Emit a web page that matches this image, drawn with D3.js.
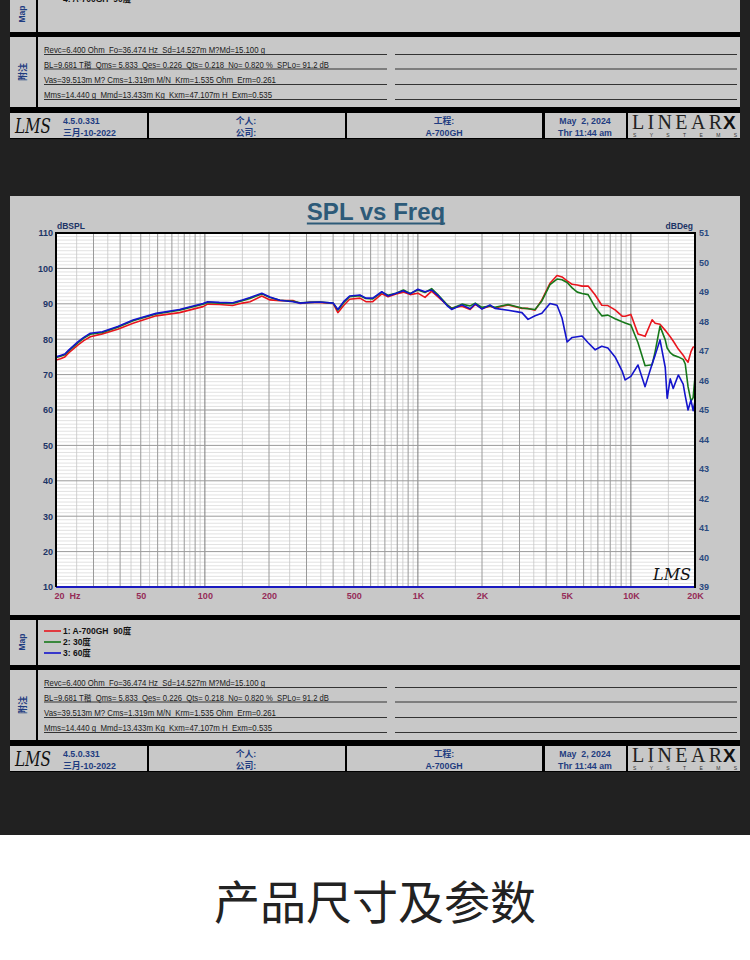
<!DOCTYPE html>
<html><head><meta charset="utf-8">
<script src="https://cdn.jsdelivr.net/npm/d3@7"></script>
<style>body{margin:0;background:#fff}svg{display:block}text{white-space:pre}</style>
</head><body>
<svg id="c" width="750" height="960"></svg>
<script>
// ---------------- DATA ----------------
const freqs = [20,21,22,23,25.4,27,29,33,39,46,59,76,98,103,117,135,150,163,185,202,225,259,280,311,346,400,421,448,478,535,570,614,677,724,791,855,920,1000,1080,1160,1240,1370,1440,1610,1760,1860,2000,2180,2300,2650,3080,3290,3550,3820,4170,4500,4750,5020,5300,5600,5900,6300,6800,7300,7800,8430,9100,9400,10000,10800,11660,12580,13000,13700,14500,14800,15300,15800,16700,17600,18000,18550,19150,19600,20000];
const red90 = [74.1,74.5,75.0,76.2,78.4, 79.6,80.7,81.5,82.8,84.5, 86.6,87.5,89.2,89.9,89.8, 89.5,90.2,90.6,92.2,91.1, 90.9,90.9,90.1,90.4,90.4, 90.1,87.5,89.5,91.3,91.6, 90.6,90.6,92.8,92.0,92.8, 93.3,92.6,93.0,91.8,93.6, 92.0,89.7,88.8,89.3,88.4, 89.8,88.7,89.3,88.8,89.7, 88.7,88.7,88.2,91.1,95.8, 98.0,97.6,96.5,95.5,95.3, 95.0,95.0,92.5,89.6,89.5, 88.3,86.5,86.5,87.0,81.5, 80.8,85.5,84.5,84.2,82.5, 81.8,80.7,79.5,77.2,75.5, 74.5,73.5,76.5,77.8,77.8];
const green30 = [74.8,75.2,75.6,76.8,79.0, 80.3,81.4,81.9,83.4,85.2, 87.1,88.2,89.9,90.4,90.2, 90.1,90.9,91.5,92.8,91.8, 91.0,90.7,90.3,90.4,90.5, 90.2,88.2,90.3,92.0,92.3, 91.5,91.4,93.3,92.4,93.0, 93.9,92.9,93.9,93.2,94.3, 92.6,89.8,88.7,89.9,89.4, 90.2,89.0,89.4,89.0,89.8, 88.8,88.6,88.4,90.8,95.4, 97.0,96.8,96.0,94.5,93.3, 92.9,92.6,89.0,86.6,86.8, 85.8,84.9,84.6,84.0,79.0, 72.5,72.8,76.5,83.7,79.8, 77.5,76.2,75.5,75.0,74.3, 73.0,66.6,62.5,63.5,69.4];
const blue60 = [75.0,75.4,75.8,77.0,79.3, 80.5,81.7,82.1,83.6,85.4, 87.3,88.4,90.1,90.6,90.4, 90.3,91.1,91.8,93.0,91.9, 91.0,90.6,90.2,90.4,90.5, 90.2,88.4,90.6,92.2,92.5, 91.6,91.6,93.4,92.2,93.0, 93.7,92.8,94.1,93.4,93.9, 92.4,89.5,88.4,89.7,88.6, 90.0,88.5,89.7,88.7,88.2, 87.5,85.6,86.6,87.3,90.1, 89.6,86.0,79.2,80.5,80.7, 80.9,79.0,77.0,78.0,77.5, 75.0,71.0,68.5,69.5,72.7, 66.6,73.0,75.5,79.8,72.0, 63.3,68.8,66.1,69.9,67.3, 64.0,60.0,62.8,59.8,62.5];
const seriesNames = ["1: A-700GH  90度","2: 30度","3: 60度"];
const seriesColors = ["#e8161e","#16781a","#1414cc"];
const yLeftTicks = [110,100,90,80,70,60,50,40,30,20,10];
const yRightTicks = [51,50,49,48,47,46,45,44,43,42,41,40,39];
const xTickValues = [20,50,100,200,500,1000,2000,5000,10000,20000];
const xTickText = ["20  Hz","50","100","200","500","1K","2K","5K","10K","20K"];
const paramLines = [
  "Revc=6.400 Ohm  Fo=36.474 Hz  Sd=14.527m M?Md=15.100 g",
  "BL=9.681 T稭  Qms= 5.833  Qes= 0.226  Qts= 0.218  No= 0.820 %  SPLo= 91.2 dB",
  "Vas=39.513m M? Cms=1.319m M/N  Krm=1.535 Ohm  Erm=0.261",
  "Mms=14.440 g  Mmd=13.433m Kg  Kxm=47.107m H  Exm=0.535"
];
const paramWidths = [221,285,232,228];

// ---------------- DRAW ----------------
const FONT = "'Liberation Sans', Arial, 'Noto Sans CJK SC', sans-serif";
const GRAY = "#c8c8c8";
const BLUE_TXT = "#1f3c80";
const svg = d3.select("#c");

svg.append("rect").attr("width",750).attr("height",835).attr("fill","#212121");
svg.append("rect").attr("y",835).attr("width",750).attr("height",125).attr("fill","#ffffff");

// chart panel
svg.append("rect").attr("x",10).attr("y",196).attr("width",730).attr("height",419).attr("fill",GRAY);
svg.append("rect").attr("x",10).attr("y",615).attr("width",730).attr("height",5).attr("fill","#000");

const title = svg.append("text").attr("x",376).attr("y",220).attr("text-anchor","middle")
  .attr("font-family",FONT).attr("font-weight","bold").attr("font-size",24).attr("fill","#2d5a78").text("SPL vs Freq");
const tw = title.node().getComputedTextLength();
svg.append("rect").attr("x",376-tw/2).attr("y",222.5).attr("width",tw).attr("height",2).attr("fill","#2d5a78");

const L=56,R=695,T=233,B=587;
const x = d3.scaleLog().domain([20,20000]).range([L,R]);
const y = d3.scaleLinear().domain([10,110]).range([B,T]);
const yR = d3.scaleLinear().domain([39,51]).range([B,T]);

svg.append("rect").attr("x",L).attr("y",T).attr("width",R-L).attr("height",B-T).attr("fill","#fff");

const grid = svg.append("g");
// horizontal minor
d3.range(11,110).filter(v=>v%10!==0).forEach(v=>{
  grid.append("line").attr("x1",L).attr("x2",R).attr("y1",y(v)).attr("y2",y(v)).attr("stroke","#d6d6d6").attr("stroke-width",0.7);
});
// vertical lines
[10,100,1000,10000].forEach(dec=>{
  for(let m=1;m<10;m++){
    const fh=(m+0.5)*dec;
    if(fh>20 && fh<20000) grid.append("line").attr("x1",x(fh)).attr("x2",x(fh)).attr("y1",T).attr("y2",B).attr("stroke","#c6c6c6").attr("stroke-width",0.8);
  }
});
[10,100,1000,10000].forEach(dec=>{
  for(let m=1;m<10;m++){
    const f=m*dec;
    if(f>20 && f<20000) grid.append("line").attr("x1",x(f)).attr("x2",x(f)).attr("y1",T).attr("y2",B).attr("stroke", m===1?"#7a7a7a":"#9a9a9a").attr("stroke-width",1);
  }
});
// horizontal major
d3.range(20,110,10).forEach(v=>{
  grid.append("line").attr("x1",L).attr("x2",R).attr("y1",y(v)).attr("y2",y(v)).attr("stroke","#9a9a9a").attr("stroke-width",1);
});

svg.append("clipPath").attr("id","pc").append("rect").attr("x",L).attr("y",T).attr("width",R-L).attr("height",B-T);
const line = d3.line().x(d=>x(d[0])).y(d=>y(d[1]));
const seriesVals = [red90, green30, blue60];
seriesVals.forEach((vals,i)=>{
  svg.append("path").attr("clip-path","url(#pc)").attr("d", line(freqs.map((f,j)=>[f,vals[j]])))
    .attr("fill","none").attr("stroke",seriesColors[i]).attr("stroke-width",1.6).attr("stroke-linejoin","round");
});

// border
svg.append("line").attr("x1",L).attr("x2",R).attr("y1",B).attr("y2",B).attr("stroke","#1a1ac0").attr("stroke-width",2);
svg.append("path").attr("d",`M${L},${B}V${T}H${R}V${B+1}`).attr("fill","none").attr("stroke","#000").attr("stroke-width",2);

// in-plot logo
svg.append("text").attr("x",672).attr("y",580).attr("text-anchor","middle").attr("font-family","'DejaVu Serif', serif")
  .attr("font-style","italic").attr("font-size",16).attr("fill","#111").text("LMS");

// axes
function styleAxis(g,color){
  g.select(".domain").remove();
  g.attr("font-family",FONT).attr("font-size",9).attr("font-weight","bold");
  g.selectAll("text").attr("fill",color);
}
const gl = svg.append("g").attr("transform",`translate(${L},0)`)
  .call(d3.axisLeft(y).tickValues(yLeftTicks).tickSize(0).tickPadding(3));
styleAxis(gl,"#1c3466");
const gr = svg.append("g").attr("transform",`translate(${R},0)`)
  .call(d3.axisRight(yR).tickValues(yRightTicks).tickSize(0).tickPadding(4));
styleAxis(gr,"#2a4a80");
const gb = svg.append("g").attr("transform",`translate(0,${B})`)
  .call(d3.axisBottom(x).tickValues(xTickValues).tickFormat((d,i)=>xTickText[i]).tickSize(0).tickPadding(6));
styleAxis(gb,"#962c58");
gb.selectAll("text").filter((d,i)=>i===0).attr("text-anchor","start").attr("x",-2);

svg.append("text").attr("x",57).attr("y",229).attr("font-family",FONT).attr("font-weight","bold").attr("font-size",8.5).attr("fill","#1c3466").text("dBSPL");
svg.append("text").attr("x",693).attr("y",229).attr("text-anchor","end").attr("font-family",FONT).attr("font-weight","bold").attr("font-size",8.5).attr("fill","#1c3466").text("dBDeg");

// ---------------- info blocks ----------------
function infoBlock(y0, mapTop, mapLabelY, legend){
  const g = svg.append("g");
  g.append("rect").attr("x",10).attr("y",mapTop).attr("width",730).attr("height",y0-5-mapTop).attr("fill",GRAY);
  g.append("rect").attr("x",10).attr("y",y0-5).attr("width",730).attr("height",5).attr("fill","#000");
  g.append("rect").attr("x",10).attr("y",y0).attr("width",730).attr("height",70).attr("fill",GRAY);
  g.append("rect").attr("x",10).attr("y",y0+70).attr("width",730).attr("height",5).attr("fill","#000");
  g.append("rect").attr("x",36).attr("y",mapTop).attr("width",2).attr("height",y0+70-mapTop).attr("fill","#000");
  g.append("text").attr("transform",`translate(25,${mapLabelY}) rotate(-90)`).attr("text-anchor","middle")
    .attr("font-family",FONT).attr("font-weight","bold").attr("font-size",8.5).attr("fill",BLUE_TXT).text("Map");
  g.append("text").attr("transform",`translate(26,${y0+35}) rotate(-90)`).attr("text-anchor","middle")
    .attr("font-family","'Noto Sans CJK SC', sans-serif").attr("font-weight","bold").attr("font-size",9).attr("fill",BLUE_TXT).text("附注");
  legend.forEach(it=>{
    g.append("line").attr("x1",44).attr("x2",61).attr("y1",it.y).attr("y2",it.y).attr("stroke",it.color).attr("stroke-width",1.6);
    g.append("text").attr("x",63).attr("y",it.y+3.2).attr("font-family",FONT).attr("font-weight","bold").attr("font-size",8.5).attr("fill","#111").text(it.name);
  });
  const offs=[16,30.5,46,61];
  paramLines.forEach((t,i)=>{
    const by=y0+offs[i];
    g.append("text").attr("x",44).attr("y",by).attr("font-family",FONT).attr("font-size",8.2).attr("fill","#1a1a1a")
      .attr("textLength",paramWidths[i]).attr("lengthAdjust","spacingAndGlyphs").text(t);
    g.append("line").attr("x1",44).attr("x2",387).attr("y1",by+1.5).attr("y2",by+1.5).attr("stroke","#333").attr("stroke-width",1.2);
    g.append("line").attr("x1",395).attr("x2",737).attr("y1",by+1.5).attr("y2",by+1.5).attr("stroke","#333").attr("stroke-width",1.2);
  });
  // footer
  const ft=y0+75;
  g.append("rect").attr("x",10).attr("y",ft).attr("width",730).attr("height",27).attr("fill","#000");
  [[10,137],[149,196],[347,195],[545,81],[628,112]].forEach(c=>{
    g.append("rect").attr("x",c[0]).attr("y",ft+1).attr("width",c[1]).attr("height",25).attr("fill",GRAY);
  });
  g.append("text").attr("x",15).attr("y",ft+21).attr("font-family","'DejaVu Serif', serif").attr("font-style","italic")
    .attr("font-size",20).attr("fill","#111").attr("textLength",36).attr("lengthAdjust","spacingAndGlyphs").text("LMS");
  const ftxt=(xx,yy,t,anchor)=>g.append("text").attr("x",xx).attr("y",yy).attr("text-anchor",anchor||"start")
    .attr("font-family",FONT).attr("font-weight","bold").attr("font-size",8.8).attr("fill",BLUE_TXT).text(t);
  ftxt(63,ft+12,"4.5.0.331");
  ftxt(63,ft+24,"三月-10-2022");
  ftxt(246,ft+12,"个人:","middle");
  ftxt(246,ft+24,"公司:","middle");
  ftxt(444,ft+12,"工程:","middle");
  ftxt(444,ft+24,"A-700GH","middle");
  ftxt(585,ft+12,"May  2, 2024","middle");
  ftxt(585,ft+24,"Thr 11:44 am","middle");
  g.append("text").attr("x",632).attr("y",ft+17).attr("font-family","'Liberation Serif', 'DejaVu Serif', serif")
    .attr("font-size",20).attr("fill","#222").attr("textLength",90).attr("lengthAdjust","spacing").text("LINEAR");
  g.append("text").attr("x",723).attr("y",ft+17).attr("font-family","'Liberation Sans', Arial, sans-serif").attr("font-weight","bold")
    .attr("font-size",19).attr("fill","#111").text("X");
  g.append("text").attr("x",633).attr("y",ft+24.5).attr("font-family",FONT).attr("font-size",5).attr("fill","#333")
    .attr("textLength",104).attr("lengthAdjust","spacing").text("SYSTEMS");
}

infoBlock(670, 620, 642, seriesNames.map((n,i)=>({name:n,color:seriesColors[i],y:631+i*11})));
infoBlock(37, -20, 14, [{name:"4: A-700GH  90度", color:"#d07070", y:-1}]);

// bottom heading
svg.append("text").attr("x",375).attr("y",919).attr("text-anchor","middle")
  .attr("font-family","'Noto Sans CJK SC', sans-serif").attr("font-size",46).attr("fill","#222").text("产品尺寸及参数");
</script>
</body></html>
